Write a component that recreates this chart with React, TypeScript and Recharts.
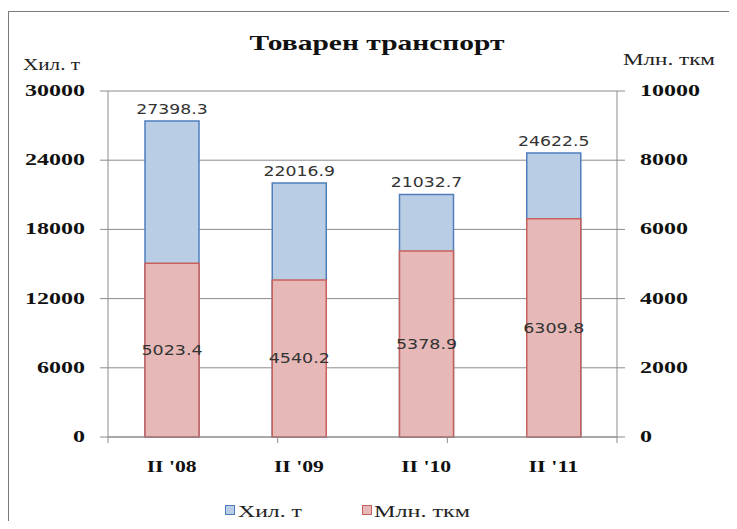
import React from 'react';
import { ComposedChart, Bar, XAxis, YAxis, CartesianGrid, LabelList } from 'recharts';

const categories = ["II '08", "II '09", "II '10", "II '11"];
const tonnes = [27398.3, 22016.9, 21032.7, 24622.5];
const tkm = [5023.4, 4540.2, 5378.9, 6309.8];
const leftTicks = [0, 6000, 12000, 18000, 24000, 30000];
const rightTicks = [0, 2000, 4000, 6000, 8000, 10000];
const boundaryTicks = [0, 1, 2, 3, 4];

const data = categories.map((name, i) => ({ name, tonnes: tonnes[i], tkm: tkm[i] }));

const BLUE_FILL = '#b9cde5';
const BLUE_LINE = '#4f7fba';
const RED_FILL = '#e6b9b8';
const RED_LINE = '#c8605c';
const GRID = '#8c8c8c';
const SERIF = '"Liberation Serif", "Times New Roman", serif';
const SANS = '"DejaVu Sans", Verdana, sans-serif';

// the source picture is stretched sideways, so text is fitted to a width per character
const fit = (s: string, perChar: number) => s.length * perChar;

const LeftTick = (props: any) => {
  const { x, y, payload } = props;
  const s = String(payload.value);
  return (
    <text x={x} y={y} dy={5} textAnchor="end" fontFamily={SERIF} fontWeight="bold" fontSize={16} fill="#111"
      textLength={fit(s, 12)} lengthAdjust="spacingAndGlyphs">{s}</text>
  );
};

const RightTick = (props: any) => {
  const { x, y, payload } = props;
  const s = String(payload.value);
  return (
    <text x={x} y={y} dy={5} textAnchor="start" fontFamily={SERIF} fontWeight="bold" fontSize={16} fill="#111"
      textLength={fit(s, 12)} lengthAdjust="spacingAndGlyphs">{s}</text>
  );
};

const CatTick = (props: any) => {
  const { x, y, payload } = props;
  const s = String(payload.value);
  return (
    <text x={x} y={y} dy={11} textAnchor="middle" fontFamily={SERIF} fontWeight="bold" fontSize={17} fill="#111"
      textLength={50} lengthAdjust="spacingAndGlyphs">{s}</text>
  );
};

// small marks between the categories, below the axis line
const BoundaryTick = (props: any) => {
  const { x, y } = props;
  return <line x1={x} x2={x} y1={y - 6} y2={y} stroke={GRID} strokeWidth={1} />;
};

const ValueLabel = (where: 'top' | 'center') => (props: any) => {
  const { x, y, width, height, value } = props;
  const s = String(value);
  const cx = Number(x) + Number(width) / 2;
  const cy = where === 'top' ? Number(y) - 7 : Number(y) + Number(height) / 2 + 5;
  return (
    <text x={cx} y={cy} textAnchor="middle" fontFamily={SANS} fontSize={14} fill="#333"
      textLength={fit(s, 10.2)} lengthAdjust="spacingAndGlyphs">{s}</text>
  );
};

export default function App() {
  return (
    <div style={{ position: 'relative', width: 737, height: 529, margin: -8, background: '#fff', overflow: 'hidden' }}>
      <div style={{ position: 'absolute', left: 8, top: 11, width: 740, height: 540, border: '1.5px solid #7a7a7a', boxSizing: 'border-box' }} />
      <ComposedChart
        width={737}
        height={529}
        data={data}
        margin={{ top: 91, right: 40, bottom: 56, left: 48 }}
        barGap={-54}
        style={{ position: 'absolute', left: 0, top: 0 }}
      >
        <CartesianGrid vertical={false} stroke={GRID} yAxisId="left" />
        <XAxis
          xAxisId="b"
          type="number"
          domain={[0, 4]}
          ticks={boundaryTicks}
          tick={<BoundaryTick />}
          axisLine={{ stroke: GRID }}
          tickLine={false}
          tickSize={0}
          tickMargin={6}
          height={6}
        />
        <XAxis
          xAxisId="cat"
          dataKey="name"
          axisLine={false}
          tickLine={false}
          tickSize={0}
          tickMargin={18}
          height={30}
          tick={<CatTick />}
        />
        <YAxis
          yAxisId="left"
          domain={[0, 30000]}
          ticks={leftTicks}
          width={60}
          axisLine={{ stroke: GRID }}
          tickLine={{ stroke: GRID }}
          tickSize={8}
          tickMargin={15}
          tick={<LeftTick />}
        />
        <YAxis
          yAxisId="right"
          orientation="right"
          domain={[0, 10000]}
          ticks={rightTicks}
          width={80}
          axisLine={{ stroke: GRID }}
          tickLine={{ stroke: GRID }}
          tickSize={8}
          tickMargin={15}
          tick={<RightTick />}
        />
        <Bar xAxisId="cat" yAxisId="left" dataKey="tonnes" barSize={54} fill={BLUE_FILL} stroke={BLUE_LINE} strokeWidth={1.5} isAnimationActive={false}>
          <LabelList dataKey="tonnes" content={ValueLabel('top')} />
        </Bar>
        <Bar xAxisId="cat" yAxisId="right" dataKey="tkm" barSize={54} fill={RED_FILL} stroke={RED_LINE} strokeWidth={1.5} isAnimationActive={false}>
          <LabelList dataKey="tkm" content={ValueLabel('center')} />
        </Bar>
      </ComposedChart>
      <svg width={737} height={529} style={{ position: 'absolute', left: 0, top: 0, pointerEvents: 'none' }}>
        <text x={377} y={50} textAnchor="middle" fontFamily={SERIF} fontWeight="bold" fontSize={22} fill="#111"
          textLength={255} lengthAdjust="spacingAndGlyphs">Товарен транспорт</text>
        <text x={23} y={70} fontFamily={SERIF} fontSize={16} fill="#222" textLength={57} lengthAdjust="spacingAndGlyphs">Хил. т</text>
        <text x={623} y={65} fontFamily={SERIF} fontSize={16} fill="#222" textLength={92} lengthAdjust="spacingAndGlyphs">Млн. ткм</text>
        <rect x={225.5} y={505.5} width={9} height={9} fill={BLUE_FILL} stroke={BLUE_LINE} />
        <text x={238} y={517} fontFamily={SERIF} fontSize={17} fill="#222" textLength={64} lengthAdjust="spacingAndGlyphs">Хил. т</text>
        <rect x={362.5} y={505.5} width={9} height={9} fill={RED_FILL} stroke={RED_LINE} />
        <text x={374} y={517} fontFamily={SERIF} fontSize={17} fill="#222" textLength={96} lengthAdjust="spacingAndGlyphs">Млн. ткм</text>
      </svg>
    </div>
  );
}
